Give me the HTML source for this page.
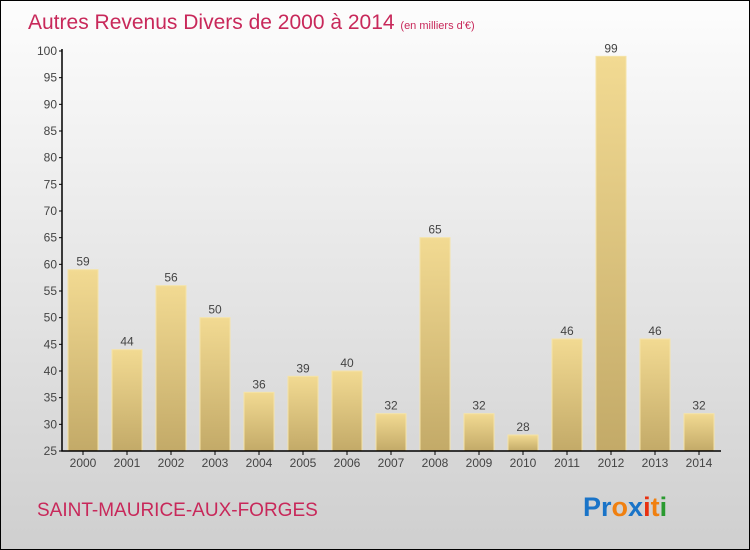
<!DOCTYPE html>
<html><head><meta charset="utf-8"><style>
body{margin:0}
#c{width:748px;height:548px;border:1px solid #000;background:linear-gradient(#fdfdfd,#cfcfcf);position:relative;overflow:hidden;font-family:"Liberation Sans",sans-serif}
</style></head><body>
<div id="c">
<svg id="s" width="748" height="548" style="position:absolute;left:0;top:0">
<defs><linearGradient id="g" x1="0" y1="0" x2="0" y2="1"><stop offset="0" stop-color="#f2da92"/><stop offset="1" stop-color="#c3aa68"/></linearGradient></defs>
<text x="27" y="28" font-size="21" fill="#c8285a">Autres Revenus Divers de 2000 à 2014 <tspan font-size="11">(en milliers d'€)</tspan></text>
<text x="36" y="515" font-size="19" fill="#c8285a">SAINT-MAURICE-AUX-FORGES</text>
<text x="582" y="515" font-size="27" font-weight="bold"><tspan fill="#1a74c8">Pr</tspan><tspan fill="#f08010">o</tspan><tspan fill="#1a74c8">x</tspan><tspan fill="#e83010">i</tspan><tspan fill="#f08010">t</tspan><tspan fill="#2a9a30">i</tspan></text>
<g id="plot"></g>
</svg>
</div>
<script>
const years=["2000","2001","2002","2003","2004","2005","2006","2007","2008","2009","2010","2011","2012","2013","2014"];
const values=[59,44,56,50,36,39,40,32,65,32,28,46,99,46,32];
const ticks=[25,30,35,40,45,50,55,60,65,70,75,80,85,90,95,100];
const ns="http://www.w3.org/2000/svg",p=document.getElementById('plot');
const y=v=>450-(v-25)*400/75, x=i=>82+44*i;
function mk(t,a){const e=document.createElementNS(ns,t);for(const k in a)e.setAttribute(k,a[k]);p.appendChild(e);return e;}
ticks.forEach(t=>{
 const l=mk('line',{x1:58,x2:61,y1:y(t),y2:y(t),stroke:'#000'});
 
 
 const tx=mk('text',{x:56,y:y(t)+4,'text-anchor':'end','font-size':12,fill:'#444'});tx.textContent=t;
 
 
});
values.forEach((v,i)=>{
 const r=mk('rect',{x:x(i)-15,y:y(v),width:30,height:450-y(v),fill:'url(#g)',stroke:'#f5e3a8','stroke-width':1});
 
 
 const t=mk('text',{x:x(i),y:y(v)-4,'text-anchor':'middle','font-size':12,fill:'#444'});t.textContent=v;
 
 
 const k=mk('line',{x1:x(i),x2:x(i),y1:450,y2:454,stroke:'#000'});
 
 
 const yl=mk('text',{x:x(i),y:466,'text-anchor':'middle','font-size':12,fill:'#444'});yl.textContent=years[i];
 
 
});
const ax=mk('path',{d:'M61 48V450H720',fill:'none',stroke:'#000','stroke-width':1.5});


</script>
</body></html>
